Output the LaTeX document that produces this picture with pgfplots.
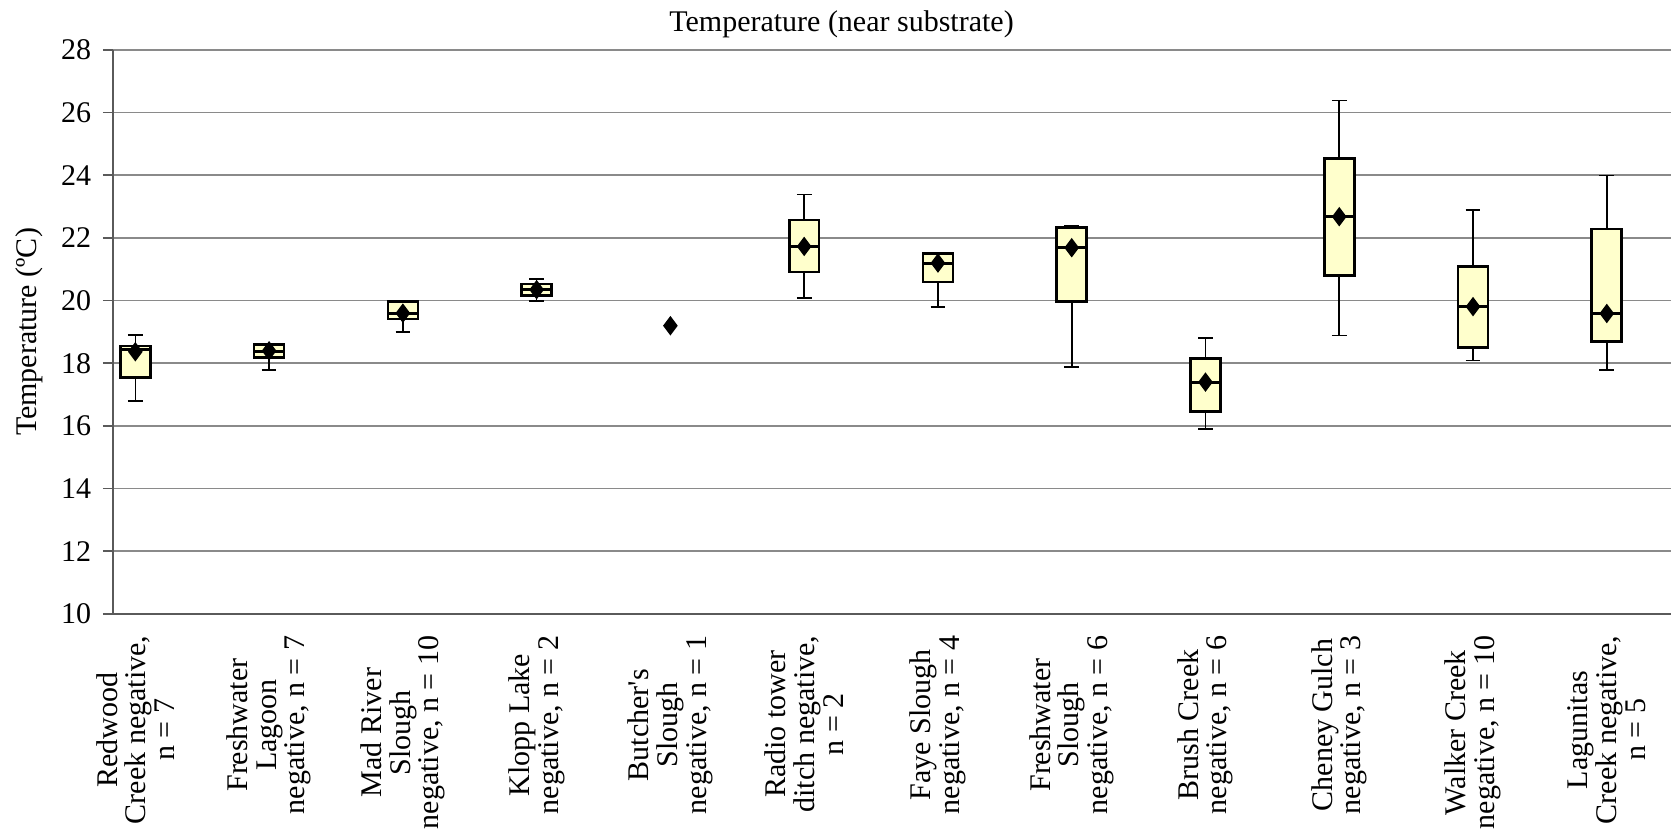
\documentclass[border=0pt]{standalone}
\usepackage{fontspec}
\setmainfont{Liberation Serif}[Ligatures=TeXOff]
\usepackage{pgfplots}
\pgfplotsset{compat=1.18}
\usepgfplotslibrary{statistics}
\definecolor{boxfill}{HTML}{FFFFCC}
\definecolor{gridgray}{HTML}{8A8A8A}
\definecolor{axgray}{HTML}{5A5A5A}
\begin{document}
\begin{tikzpicture}
\begin{axis}[
  at={(0,0)}, anchor=south west,
  scale only axis, width=467.4pt, height=169.2pt,
  xmin=-0.167, xmax=11.48, ymin=10, ymax=28,
  axis lines=left, axis line style={-, axgray, line width=0.6pt},
  ytick={10,12,...,28},
  tick align=outside, major tick length=3pt,
  y tick style={axgray, line width=0.5pt},
  ymajorgrids, grid style={gridgray, line width=0.5pt},
  xtick={0,...,11}, x tick style={draw=none},
  xticklabels={
    {Redwood\\Creek negative,\\n = 7},
    {Freshwater\\Lagoon\\negative, n = 7},
    {Mad River\\Slough\\negative, n = 10},
    {Klopp Lake\\negative, n = 2},
    {Butcher's\\Slough\\negative, n = 1},
    {Radio tower\\ditch negative,\\n = 2},
    {Faye Slough\\negative, n = 4},
    {Freshwater\\Slough\\negative, n = 6},
    {Brush Creek\\negative, n = 6},
    {Cheney Gulch\\negative, n = 3},
    {Walker Creek\\negative, n = 10},
    {Lagunitas\\Creek negative,\\n = 5}},
  x tick label style={rotate=90, anchor=east, align=center, font=\fontsize{9}{8.6}\selectfont},
  y tick label style={font=\fontsize{9}{10}\selectfont},
  /pgf/number format/assume math mode=true,
  title={Temperature (near substrate)},
  title style={at={(axis description cs:0.4676,1)}, anchor=base, yshift=-0.5pt, inner sep=0pt, font=\fontsize{9}{10}\selectfont},
  ylabel={Temperature (ºC)},
  ylabel style={at={(axis description cs:-0.0539,0.5)}, anchor=center, inner sep=0pt, font=\fontsize{9}{10}\selectfont},
  cycle list={{black, solid}},
  boxplot/draw direction=y,
  boxplot/box extend=0.224,
  boxplot/whisker extend=0.11,
  boxplot/every box/.style={draw=black, solid, fill=boxfill, line width=0.8pt},
  boxplot/every whisker/.style={draw=black, solid, line width=0.5pt},
  boxplot/every median/.style={draw=black, solid, line width=0.95pt},
  clip=false,
]
\addplot+[boxplot prepared={lower whisker=16.8, lower quartile=17.54, median=18.45, upper quartile=18.55, upper whisker=18.9, draw position=0}] coordinates {};
\addplot+[boxplot prepared={lower whisker=17.79, lower quartile=18.18, median=18.39, upper quartile=18.61, upper whisker=18.61, draw position=1}] coordinates {};
\addplot+[boxplot prepared={lower whisker=18.99, lower quartile=19.41, median=19.59, upper quartile=19.98, upper whisker=20.0, draw position=2}] coordinates {};
\addplot+[boxplot prepared={lower whisker=19.98, lower quartile=20.16, median=20.35, upper quartile=20.53, upper whisker=20.69, draw position=3}] coordinates {};
\addplot+[boxplot prepared={lower whisker=20.09, lower quartile=20.91, median=21.73, upper quartile=22.57, upper whisker=23.39, draw position=5}] coordinates {};
\addplot+[boxplot prepared={lower whisker=19.8, lower quartile=20.6, median=21.19, upper quartile=21.5, upper whisker=21.52, draw position=6}] coordinates {};
\addplot+[boxplot prepared={lower whisker=17.89, lower quartile=19.98, median=21.69, upper quartile=22.34, upper whisker=22.4, draw position=7}] coordinates {};
\addplot+[boxplot prepared={lower whisker=15.9, lower quartile=16.46, median=17.4, upper quartile=18.16, upper whisker=18.8, draw position=8}] coordinates {};
\addplot+[boxplot prepared={lower whisker=18.89, lower quartile=20.8, median=22.68, upper quartile=24.54, upper whisker=26.39, draw position=9}] coordinates {};
\addplot+[boxplot prepared={lower whisker=18.09, lower quartile=18.51, median=19.81, upper quartile=21.09, upper whisker=22.9, draw position=10}] coordinates {};
\addplot+[boxplot prepared={lower whisker=17.79, lower quartile=18.7, median=19.59, upper quartile=22.29, upper whisker=23.99, draw position=11}] coordinates {};
\addplot[only marks, mark=diamond*, mark size=2.6pt, black] coordinates {
  (0,18.37) (1,18.4) (2,19.6) (3,20.35) (4,19.2) (5,21.73)
  (6,21.2) (7,21.69) (8,17.4) (9,22.68) (10,19.81) (11,19.59)};
\end{axis}
\pgfresetboundingbox
\path[use as bounding box] (-33.9pt,-66.3pt) rectangle (467.4pt,184.2pt);
\end{tikzpicture}
\end{document}
